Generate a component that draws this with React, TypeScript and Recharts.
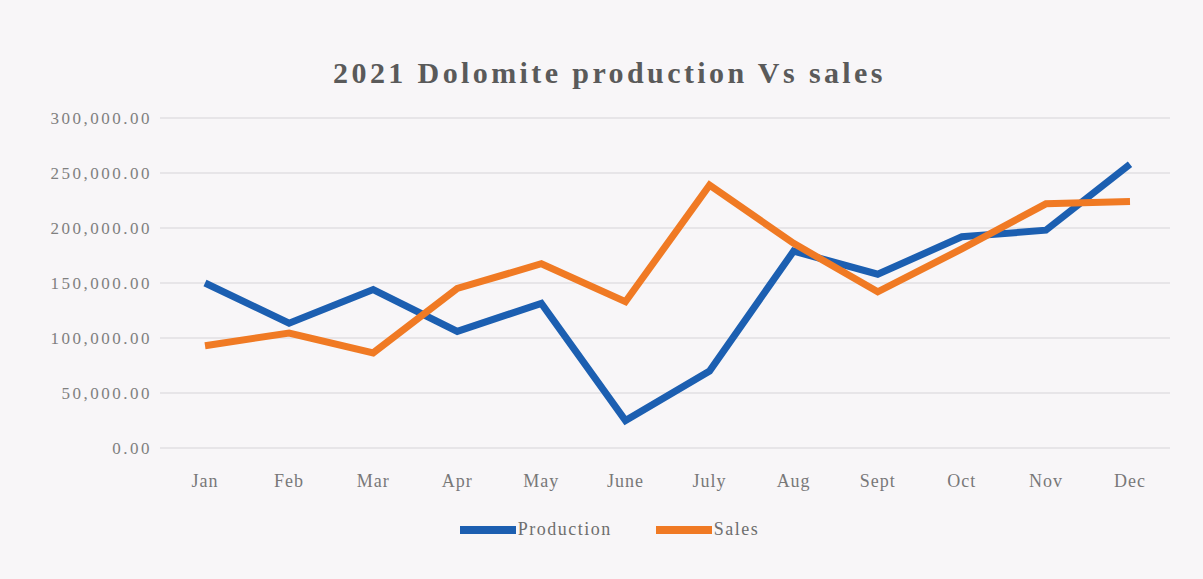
import React from "react";
import { LineChart, Line, XAxis, YAxis, CartesianGrid } from "recharts";

const months = ["Jan", "Feb", "Mar", "Apr", "May", "June", "July", "Aug", "Sept", "Oct", "Nov", "Dec"];
const production = [150000, 113500, 144000, 106000, 131500, 25000, 70000, 179000, 158000, 192000, 198000, 258000];
const sales = [93000, 104500, 86500, 145000, 167500, 133000, 239000, 186000, 142000, 181000, 222000, 224000];
const yTicks = [0, 50000, 100000, 150000, 200000, 250000, 300000];

const BLUE = "#1c5fb1";
const ORANGE = "#f07a24";
const SERIF = "'Liberation Serif', 'DejaVu Serif', serif";

const data = months.map((m, i) => ({ month: m, Production: production[i], Sales: sales[i] }));

const fmt = (v: number) =>
  v.toLocaleString("en-US", { minimumFractionDigits: 2, maximumFractionDigits: 2 });

function LegendRow() {
  const items = [
    { name: "Production", color: BLUE },
    { name: "Sales", color: ORANGE },
  ];
  return (
    <div
      style={{
        position: "absolute",
        top: 519,
        left: 8,
        width: 1203,
        display: "flex",
        justifyContent: "center",
        gap: 44,
        fontFamily: SERIF,
        fontSize: 18,
        letterSpacing: 1.5,
        color: "#6e6e6e",
      }}
    >
      {items.map((it) => (
        <div key={it.name} style={{ display: "flex", alignItems: "center" }}>
          <span style={{ width: 56, height: 8, background: it.color, display: "inline-block", marginRight: 2 }} />
          <span>{it.name}</span>
        </div>
      ))}
    </div>
  );
}

export default function App() {
  return (
    <div style={{ position: "relative", width: 1203, height: 579, background: "#f8f6f8", overflow: "hidden" }}>
      <style>{`body{margin:0}`}</style>
      <div
        style={{
          position: "absolute",
          top: 56,
          left: 0,
          width: 1203,
          textAlign: "center",
          fontFamily: SERIF,
          fontWeight: "bold",
          fontSize: 30,
          letterSpacing: 3.4,
          color: "#5a5a5a",
          paddingLeft: 8,
        }}
      >
        2021 Dolomite production Vs sales
      </div>
      <LineChart
        width={1203}
        height={579}
        data={data}
        margin={{ top: 118, right: 33, bottom: 101, left: 10 }}
        style={{ position: "absolute", top: 0, left: 0 }}
      >
        <CartesianGrid vertical={false} stroke="#e2dfe3" strokeWidth={1.5} />
        <XAxis
          dataKey="month"
          axisLine={false}
          tickLine={false}
          padding={{ left: 45, right: 40 }}
          tick={{ fontFamily: SERIF, fontSize: 18, fill: "#787878", letterSpacing: 1 }}
          tickMargin={20}
        />
        <YAxis
          domain={[0, 300000]}
          ticks={yTicks}
          tickFormatter={fmt}
          axisLine={false}
          tickLine={false}
          width={150}
          tick={{ fontFamily: SERIF, fontSize: 17, fill: "#808080", letterSpacing: 2.5 }}
        />
        <Line
          type="linear"
          dataKey="Production"
          stroke={BLUE}
          strokeWidth={7}
          dot={false}
          isAnimationActive={false}
        />
        <Line
          type="linear"
          dataKey="Sales"
          stroke={ORANGE}
          strokeWidth={7}
          dot={false}
          isAnimationActive={false}
        />
      </LineChart>
      <LegendRow />
    </div>
  );
}
